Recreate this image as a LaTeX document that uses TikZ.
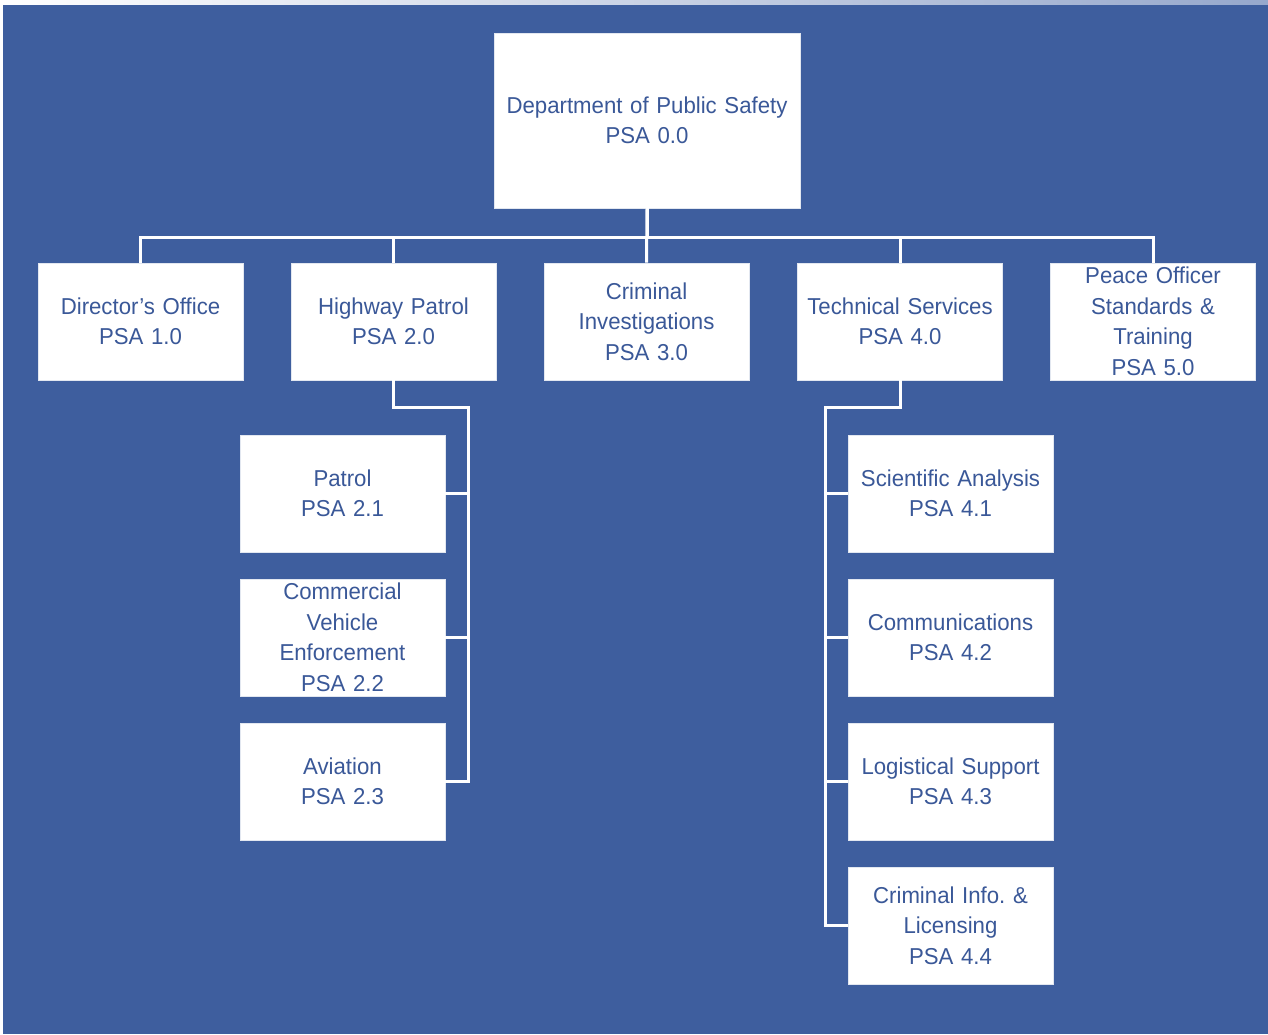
\documentclass[tikz,border=0pt]{standalone}
\usepackage{fontspec}
\setmainfont{Liberation Sans}[FakeStretch=0.965]
\definecolor{bgblue}{RGB}{62,94,158}
\definecolor{txtblue}{RGB}{58,88,152}
\definecolor{stripblue}{RGB}{150,168,204}
\begin{document}
\frenchspacing
\begin{tikzpicture}[x=1pt,y=-1pt,
  box/.style={fill=white, draw=white!85!bgblue, line width=0.6pt, minimum width=205pt, minimum height=117pt,
    inner sep=0pt, align=center, text=txtblue, text width=200pt,
    font=\fontsize{23}{30.5}\selectfont},
  link/.style={draw=white, line width=3pt}]
\useasboundingbox (0,0) rectangle (1268,1034);
\fill[white] (0,0) rectangle (1268,1034);
\shade[left color=white, right color=stripblue] (0,0) rectangle (1268,5);
\fill[bgblue] (3,5) rectangle (1268,1034);

\node[box, minimum width=306pt, minimum height=175pt, text width=300pt] (dps) at (647,120.5) {Department of Public Safety\\PSA 0.0};

\node[box] (dir)  at (140.5,321.5) {Director’s Office\\PSA 1.0};
\node[box] (hp)   at (393.5,321.5) {Highway Patrol\\PSA 2.0};
\node[box] (ci)   at (646.5,321.5) {Criminal\\Investigations\\PSA 3.0};
\node[box] (ts)   at (900,321.5)   {Technical Services\\PSA 4.0};
\node[box] (post) at (1153,321.5)  {Peace Officer\\Standards \&\\Training\\PSA 5.0};

\node[box] (p21) at (342.5,493.5) {Patrol\\PSA 2.1};
\node[box] (p22) at (342.5,637.5) {Commercial\\Vehicle\\Enforcement\\PSA 2.2};
\node[box] (p23) at (342.5,781.5) {Aviation\\PSA 2.3};

\node[box] (p41) at (950.5,493.5) {Scientific Analysis\\PSA 4.1};
\node[box] (p42) at (950.5,637.5) {Communications\\PSA 4.2};
\node[box] (p43) at (950.5,781.5) {Logistical Support\\PSA 4.3};
\node[box] (p44) at (950.5,925.5) {Criminal Info. \&\\Licensing\\PSA 4.4};

\draw[link] (dps.south) -- ++(0,29) -| (dir.north);
\draw[link] (dps.south) -- ++(0,29) -| (hp.north);
\draw[link] (dps.south) -- (ci.north);
\draw[link] (dps.south) -- ++(0,29) -| (ts.north);
\draw[link] (dps.south) -- ++(0,29) -| (post.north);

\coordinate (hpspine) at (468,407);
\draw[link] (hp.south) |- (hpspine) |- (p23.east);
\draw[link] (hpspine) |- (p21.east);
\draw[link] (hpspine) |- (p22.east);

\coordinate (tsspine) at (825,407);
\draw[link] (ts.south) |- (tsspine) |- (p44.west);
\draw[link] (tsspine) |- (p41.west);
\draw[link] (tsspine) |- (p42.west);
\draw[link] (tsspine) |- (p43.west);
\end{tikzpicture}
\end{document}
